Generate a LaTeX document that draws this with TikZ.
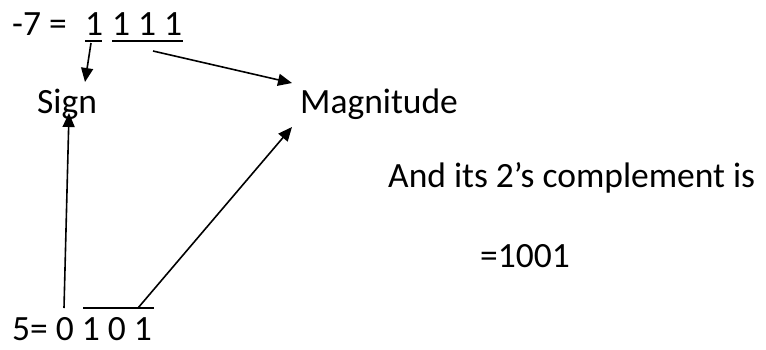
\documentclass[tikz,border=0pt]{standalone}
\usepackage{fontspec}
\setmainfont{Carlito}
\usetikzlibrary{arrows.meta}
\begin{document}
\begin{tikzpicture}[x=1pt,y=-1pt,
  txt/.style={anchor=base west,inner sep=0pt,font=\fontsize{35.5}{42}\selectfont},
  conn/.style={line width=1.6pt,-{Triangle[length=14pt,width=12pt]}},
  bar/.style={line width=1.8pt}]
\useasboundingbox (0,0) rectangle (766,349);
\node[txt] (m7) at (12,35) {-7 =};
\node[txt] (s1) at (85,35) {1};
\node[txt] (m1) at (112,35) {1 1 1};
\node[txt] (sign) at (37,113) {Sign};
\node[txt] (mag) at (300,113) {Magnitude};
\node[txt] (and) at (388,187) {And its 2’s complement is};
\node[txt] (eq) at (480,267) {=1001};
\node[txt] (five) at (12,340) {5= 0 1 0 1};
% bars
\coordinate (u1a) at (85,41); \coordinate (u1b) at (102,41);
\coordinate (u2a) at (112,41); \coordinate (u2b) at (183,41);
\coordinate (o1a) at (83,308); \coordinate (o1b) at (154,308);
\draw[bar] (u1a) -- (u1b);
\draw[bar] (u2a) -- (u2b);
\draw[bar] (o1a) -- (o1b);
% arrows
\coordinate (a1s) at (91,43); \coordinate (a1e) at (85,82);
\coordinate (a2s) at (153,51); \coordinate (a2e) at (292,83);
\coordinate (a3s) at (64,308); \coordinate (a3e) at (69,113);
\coordinate (a4s) at (138,308); \coordinate (a4e) at (292,127);
\draw[conn] (a1s) -- (a1e);
\draw[conn] (a2s) -- (a2e);
\draw[conn] (a3s) -- (a3e);
\draw[conn] (a4s) -- (a4e);
\end{tikzpicture}
\end{document}
